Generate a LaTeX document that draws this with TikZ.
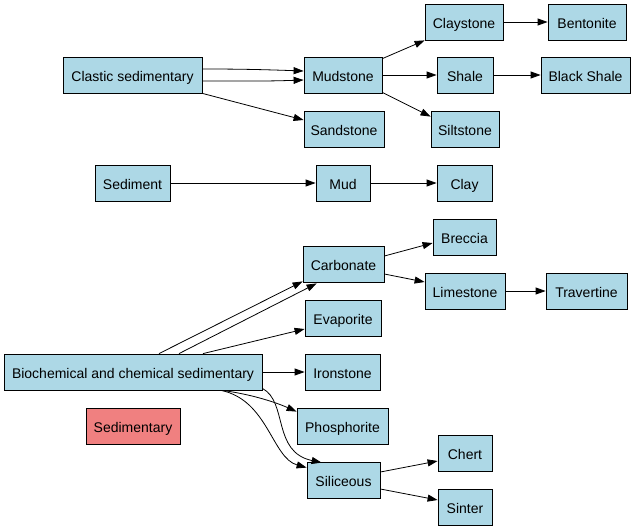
\documentclass[tikz,border=0pt]{standalone}
\usepackage{fontspec}
\setmainfont{Liberation Sans}
\usetikzlibrary{arrows.meta,calc}
\definecolor{lb}{HTML}{ADD8E6}
\definecolor{lc}{HTML}{F08080}
\tikzset{
  box/.style={draw=black, fill=lb, minimum height=36pt, inner sep=0pt, text height=13pt, text depth=0.5pt, font=\fontsize{14}{16}\selectfont, line width=0.8pt},
  arr/.style={-{Triangle[length=10pt,width=7pt]}, line width=0.8pt}
}
\begin{document}
\begin{tikzpicture}[x=1pt,y=-1pt]
\useasboundingbox (0,0) rectangle (635,530);
\node[box,minimum width=139pt] (clastic) at (132.5,75) {Clastic sedimentary};
\node[box,minimum width=78pt] (mudstone) at (343,75) {Mudstone};
\node[box,minimum width=80pt] (sandstone) at (344,129) {Sandstone};
\node[box,minimum width=78pt] (claystone) at (464,22) {Claystone};
\node[box,minimum width=78pt] (bentonite) at (587,22) {Bentonite};
\node[box,minimum width=56pt] (shale) at (465,75) {Shale};
\node[box,minimum width=89pt] (blackshale) at (585.5,75) {Black Shale};
\node[box,minimum width=68pt] (siltstone) at (465,129) {Siltstone};
\node[box,minimum width=75pt] (sediment) at (132.5,183) {Sediment};
\node[box,minimum width=54pt] (mud) at (343,183) {Mud};
\node[box,minimum width=55pt] (clay) at (464.5,183) {Clay};
\node[box,minimum width=81pt] (carbonate) at (343.5,264) {Carbonate};
\node[box,minimum width=63pt] (breccia) at (464.5,237) {Breccia};
\node[box,minimum width=80pt] (limestone) at (465,291) {Limestone};
\node[box,minimum width=81pt] (travertine) at (586.5,291) {Travertine};
\node[box,minimum width=76pt] (evaporite) at (343,318) {Evaporite};
\node[box,minimum width=258pt] (bio) at (133,372) {Biochemical and chemical sedimentary};
\node[box,minimum width=75pt] (ironstone) at (342.5,372) {Ironstone};
\node[box,minimum width=94pt,fill=lc] (sedimentary) at (133,426) {Sedimentary};
\node[box,minimum width=91pt] (phosphorite) at (342.5,426) {Phosphorite};
\node[box,minimum width=73pt] (siliceous) at (343.5,480) {Siliceous};
\node[box,minimum width=54pt] (chert) at (465,453) {Chert};
\node[box,minimum width=54pt] (sinter) at (465,507) {Sinter};

\draw[arr] ($(clastic.east)+(0,-6)$) to[out=0,in=178] ($(mudstone.west)+(0,-4)$);
\draw[arr] ($(clastic.east)+(0,6)$) to[out=0,in=182] ($(mudstone.west)+(0,5)$);
\draw[arr] (clastic.south east) -- ($(sandstone.west)+(0,-9)$);
\draw[arr] ($(mudstone.north east)+(0,2)$) -- (claystone.south west);
\draw[arr] (mudstone.east) -- (shale.west);
\draw[arr] ($(mudstone.south east)+(0,-1)$) -- ($(siltstone.north west)+(0,6)$);
\draw[arr] (claystone.east) -- (bentonite.west);
\draw[arr] (shale.east) -- (blackshale.west);
\draw[arr] (sediment.east) -- (mud.west);
\draw[arr] (mud.east) -- (clay.west);
\draw[arr] ($(carbonate.east)+(0,-8)$) -- ($(breccia.west)+(0,6)$);
\draw[arr] ($(carbonate.east)+(0,10)$) -- ($(limestone.west)+(0,-9)$);
\draw[arr] (limestone.east) -- (travertine.west);
\draw[arr] ($(bio.north)+(26,0)$) -- ($(carbonate.south west)+(0,-1)$);
\draw[arr] ($(bio.north)+(46,0)$) -- ($(carbonate.south west)+(14,1)$);
\draw[arr] ($(bio.north)+(70,0)$) -- ($(evaporite.west)+(0,11)$);
\draw[arr] (bio.east) -- (ironstone.west);
\draw[arr] ($(bio.south)+(89,0)$) .. controls (250,394) and (275,402) .. ($(phosphorite.north west)+(0,4)$);
\draw[arr] ($(bio.south east)+(0,-2)$) .. controls (288,402) and (272,452) .. ($(siliceous.north west)+(15,1)$);
\draw[arr] ($(bio.south)+(88,0)$) .. controls (268,400) and (272,458) .. ($(siliceous.north west)+(0,6)$);
\draw[arr] ($(siliceous.east)+(0,-8)$) -- ($(chert.west)+(0,8)$);
\draw[arr] ($(siliceous.east)+(0,9)$) -- ($(sinter.west)+(0,-7)$);
\end{tikzpicture}
\end{document}
